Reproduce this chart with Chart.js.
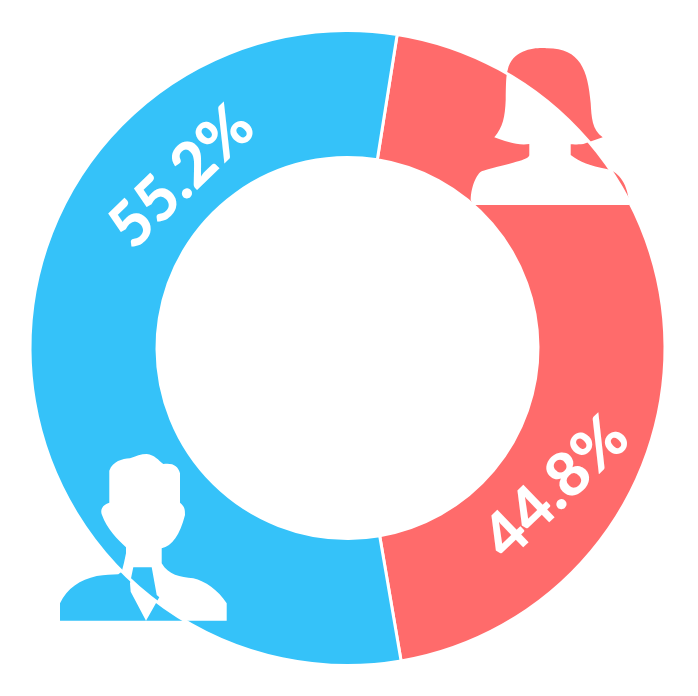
<!DOCTYPE html>
<html>
<head>
<meta charset="utf-8">
<style>
html, body { margin: 0; padding: 0; background: #fff; }
canvas { display: block; }
</style>
<script src="https://cdn.jsdelivr.net/npm/chart.js@4"></script>
</head>
<body>
<canvas id="genderChart" width="698" height="696"></canvas>
<script>
// Gender split donut
const categories = ['Female', 'Male'];
const shares = [44.8, 55.2];
const shareLabels = ['44.8%', '55.2%'];
const sliceColors = ['#ff6b6b', '#35c2f9'];

// where the rotated labels sit on the ring, degrees clockwise from 12 o'clock, and radius share of the ring
const labelAngles = [123.8, 315.9];
const labelRadius = [0.791, 0.75];

// icon outlines in page pixels, they are knocked out of the ring with xor
const femaleIcon = 'M473 205 L470.7 200 C471 185 478 171 483.3 170.7 C510 163 529.3 160 529.3 155 L529.3 144 C518 146 505 141 494.3 137.3 C503 127 505 117 505.7 100 C505.9 85 506 75 507.7 70 C513 45 545 48 546.7 48.3 C580 48 588 70 590.7 103.3 C591.5 117 592 130 602.7 137.3 L583.3 144 C578 144.5 574 144.5 570.7 144.3 L570.7 155 C580 162 590 166 606.7 169 C620 172 628 185 629.3 205 Z';
const maleIcon = 'M60 620.7 L60 603.3 C67 588 80 580 96.7 576 C105 574.8 112 574.4 118.3 574.3 L121.7 571.7 L124 562.7 L126 553.3 L126 547.3 C118 540 106.7 528.3 102 515 C100 510 102 505 109.3 502.7 L109.3 470.7 C113 461 122 459 130 458.3 C136 456 141 454 146.7 454 C155 455 158 460 163.3 464 C173.3 462.7 178 466 180 473.3 L180 502.7 C185 506.7 185 510 185 515 C180 535 172 546 161.7 548.3 L161.7 563.3 C168.3 575 180 577 193.3 578.3 C205 581 218 590 226.7 603.3 L226.7 620.7 Z ' +
    'M133.3 567.3 L151.7 567.3 L156.7 595 L159.3 597.3 L146 620.7 L130.7 591.7 L130 583.3 Z';

const ringLabels = {
    id: 'ringLabels',
    afterDatasetsDraw(chart) {
        const arc = chart.getDatasetMeta(0).data[0];
        const ctx = chart.ctx;
        ctx.save();
        ctx.font = '900 62px Lato';
        ctx.fillStyle = '#fff';
        ctx.textAlign = 'center';
        ctx.textBaseline = 'middle';
        shareLabels.forEach((text, i) => {
            const a = labelAngles[i] * Math.PI / 180;
            const r = arc.outerRadius * labelRadius[i];
            ctx.save();
            ctx.translate(arc.x + r * Math.sin(a), arc.y - r * Math.cos(a));
            ctx.rotate(-44 * Math.PI / 180);
            ctx.fillText(text, 0, 0);
            ctx.restore();
        });
        ctx.restore();
    }
};

const iconKnockout = {
    id: 'iconKnockout',
    afterDraw(chart) {
        const ctx = chart.ctx;
        ctx.save();
        ctx.globalCompositeOperation = 'xor';
        ctx.fillStyle = sliceColors[0];
        ctx.fill(new Path2D(femaleIcon), 'evenodd');
        ctx.fillStyle = sliceColors[1];
        ctx.fill(new Path2D(maleIcon), 'evenodd');
        ctx.restore();
    }
};

new Chart(document.getElementById('genderChart'), {
    type: 'doughnut',
    data: {
        labels: categories,
        datasets: [{
            data: shares,
            backgroundColor: sliceColors,
            borderColor: '#fff',
            borderWidth: 3
        }]
    },
    options: {
        responsive: false,
        animation: false,
        rotation: 9,
        cutout: '60%',
        layout: { padding: { left: 28, right: 31, top: 29, bottom: 29 } },
        plugins: {
            legend: { display: false },
            tooltip: { enabled: false }
        }
    },
    plugins: [ringLabels, iconKnockout]
});
</script>
</body>
</html>
